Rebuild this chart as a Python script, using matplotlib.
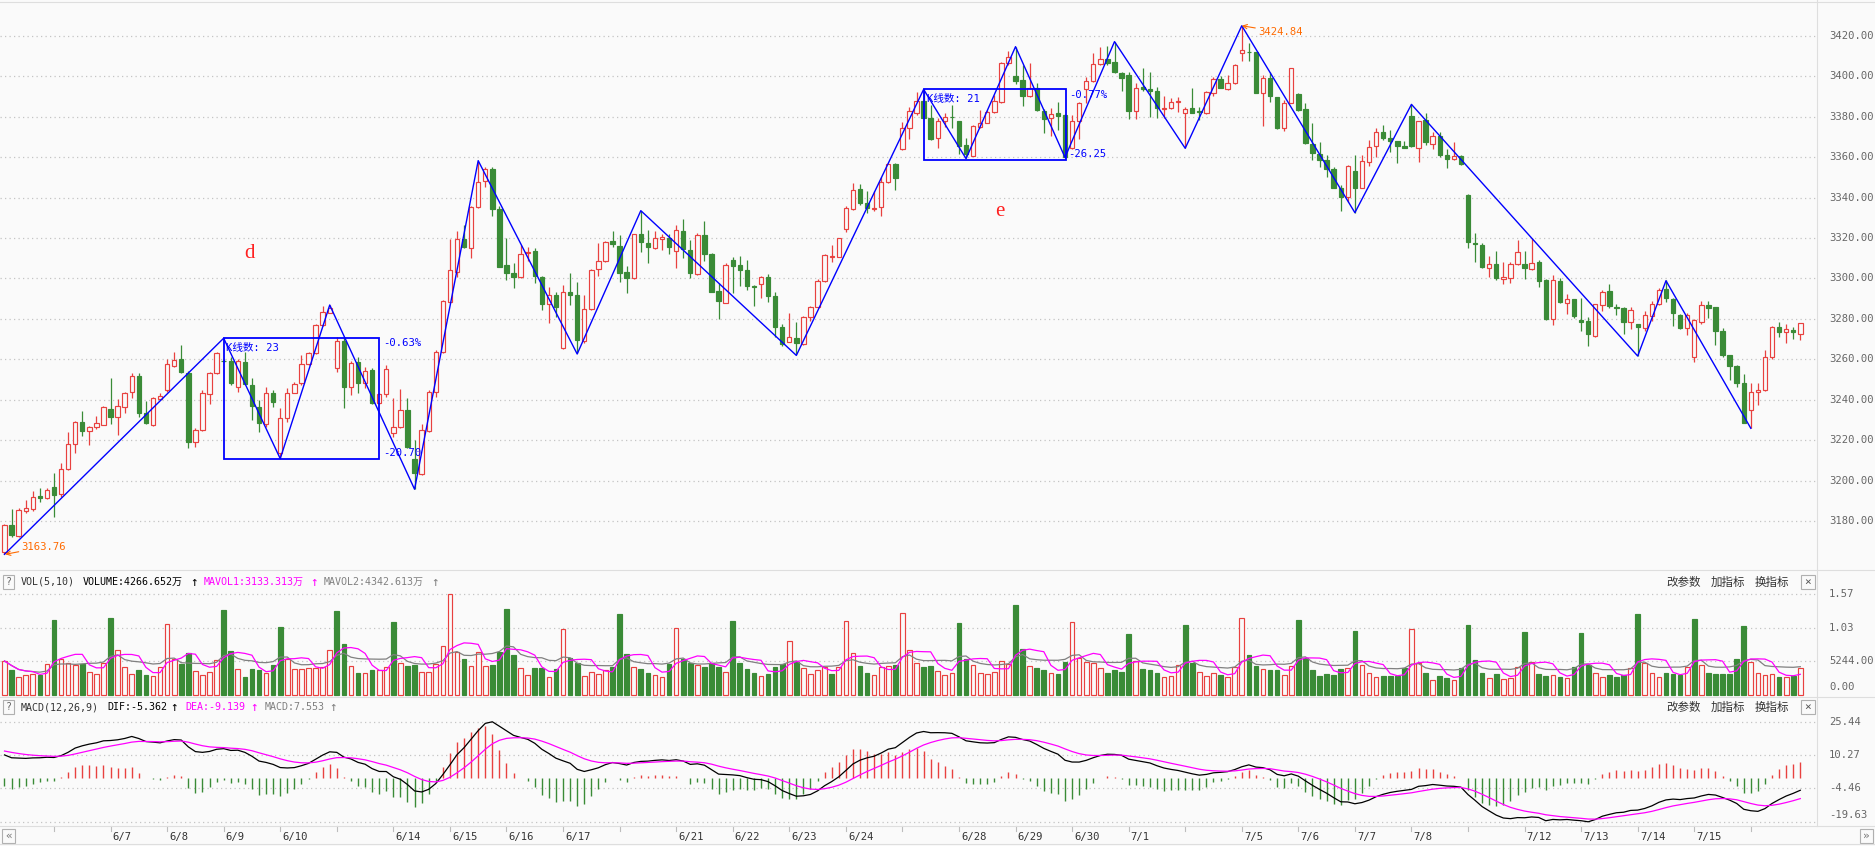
import matplotlib
matplotlib.use('Agg')
import matplotlib.pyplot as plt
import numpy as np
import pandas as pd
from matplotlib.patches import Rectangle
from matplotlib.collections import LineCollection
from matplotlib.lines import Line2D
import matplotlib.transforms as mtransforms

# ---------------- data (30-minute bars, SSE index) ----------------
opens = [3165.0,3178.1,3172.9,3185.4,3186.2,3192.6,3191.5,3197.1,3193.4,3205.8,
3218.1,3229.0,3224.7,3226.5,3227.8,3235.6,3231.5,3236.7,3243.8,3251.7,
3233.4,3227.8,3240.5,3244.8,3257.0,3260.3,3253.5,3219.3,3225.0,3242.8,
3253.2,3259.6,3259.3,3246.6,3258.8,3247.4,3236.6,3228.2,3243.3,3214.0,
3231.0,3243.6,3248.2,3257.6,3263.1,3277.1,3283.1,3256.0,3269.3,3246.3,
3258.9,3248.2,3254.8,3238.7,3242.8,3223.9,3226.5,3235.1,3210.7,3203.5,
3224.7,3243.8,3263.9,3288.5,3303.3,3319.5,3315.2,3335.1,3348.1,3354.0,
3334.5,3306.6,3302.5,3300.5,3312.4,3313.5,3300.9,3287.2,3291.8,3265.5,
3293.1,3291.8,3269.3,3284.7,3304.5,3308.6,3318.5,3316.0,3303.0,3300.0,
3321.8,3317.3,3314.9,3319.3,3319.8,3313.5,3323.4,3314.0,3302.0,3321.4,
3312.1,3293.8,3288.0,3309.1,3306.6,3304.2,3296.4,3297.3,3300.9,3291.3,
3275.9,3268.8,3270.4,3267.5,3281.1,3285.7,3298.9,3310.8,3310.8,3324.4,
3334.3,3344.0,3337.1,3334.1,3335.1,3347.5,3356.5,3363.8,3374.2,3381.9,
3387.6,3379.1,3369.2,3377.8,3380.0,3377.8,3365.9,3360.7,3375.0,3377.0,
3382.4,3387.3,3406.2,3400.0,3398.0,3390.1,3393.9,3382.9,3379.1,3381.6,
3380.7,3364.3,3377.9,3393.6,3397.5,3405.8,3408.2,3406.7,3401.3,3400.5,
3382.7,3394.7,3393.4,3392.6,3383.5,3384.0,3387.3,3381.6,3384.4,3382.7,
3381.6,3391.8,3398.3,3393.4,3396.4,3411.2,3412.0,3411.7,3391.8,3398.9,
3389.5,3374.2,3386.8,3391.1,3383.5,3366.4,3361.5,3358.5,3354.1,3344.9,
3340.1,3353.1,3344.9,3357.5,3365.4,3372.2,3369.2,3367.9,3365.4,3380.2,
3364.6,3378.2,3366.2,3370.3,3361.0,3358.8,3360.5,3341.2,3317.3,3316.5,
3305.3,3307.0,3299.6,3300.1,3307.0,3307.0,3304.5,3308.3,3299.2,3279.8,
3298.7,3288.0,3289.9,3279.5,3279.2,3271.6,3286.9,3293.8,3285.7,3285.2,
3278.7,3277.3,3275.4,3281.6,3287.2,3294.8,3289.9,3282.0,3275.4,3261.0,
3278.3,3286.7,3285.7,3274.2,3262.2,3256.8,3248.2,3235.0,3244.1,3244.9,
3261.4,3275.9,3273.4,3274.5,3272.4]
highs = [3178.8,3186.0,3186.5,3190.6,3195.1,3196.7,3196.7,3203.8,3208.7,3224.4,
3229.8,3234.6,3227.2,3232.1,3237.1,3251.0,3240.5,3244.1,3253.5,3253.2,
3239.5,3241.7,3243.3,3260.1,3263.9,3266.9,3254.2,3226.0,3245.0,3253.8,
3263.9,3260.3,3261.4,3260.3,3263.9,3250.7,3240.0,3246.6,3245.0,3235.9,
3245.8,3249.1,3262.2,3263.9,3277.5,3286.4,3286.9,3271.0,3271.0,3259.4,
3261.4,3256.5,3255.6,3243.6,3257.3,3240.8,3245.3,3240.8,3220.3,3228.2,
3245.0,3264.7,3289.5,3319.5,3323.4,3326.4,3335.8,3358.2,3354.9,3354.9,
3335.8,3319.8,3307.8,3316.5,3315.4,3314.9,3301.4,3295.6,3293.1,3296.8,
3302.5,3298.1,3291.8,3304.5,3317.3,3318.5,3323.4,3321.4,3306.1,3322.0,
3333.5,3323.9,3323.4,3321.8,3321.9,3326.4,3329.2,3319.0,3322.3,3328.4,
3312.4,3297.6,3307.8,3310.8,3311.1,3309.1,3296.8,3301.4,3302.0,3293.1,
3277.5,3283.1,3278.3,3281.4,3286.4,3299.6,3312.1,3316.5,3320.1,3335.8,
3347.3,3346.6,3343.2,3343.2,3350.3,3356.8,3356.8,3377.4,3384.5,3392.3,
3393.1,3385.7,3379.4,3381.9,3385.7,3378.0,3369.2,3375.8,3383.2,3383.2,
3390.6,3406.7,3412.5,3414.5,3405.4,3406.2,3396.4,3383.5,3384.0,3387.3,
3381.0,3380.7,3387.3,3399.3,3411.2,3414.2,3414.8,3417.0,3402.1,3402.1,
3396.7,3403.8,3402.1,3394.7,3390.1,3389.0,3389.8,3384.5,3393.9,3384.5,
3392.8,3399.7,3400.0,3400.5,3405.8,3424.84,3416.1,3412.0,3400.5,3402.1,
3389.8,3388.2,3404.0,3391.8,3386.8,3376.6,3367.6,3361.0,3355.2,3346.2,
3356.0,3361.0,3361.0,3368.4,3374.1,3375.8,3373.3,3368.0,3367.9,3386.0,
3378.0,3381.9,3372.5,3372.5,3363.9,3367.5,3361.0,3341.5,3322.3,3317.3,
3311.1,3313.6,3308.3,3308.3,3319.0,3313.6,3319.8,3309.1,3299.6,3301.7,
3300.1,3292.3,3290.0,3290.2,3281.1,3287.4,3294.3,3297.3,3287.4,3285.7,
3285.7,3277.5,3284.1,3289.0,3295.1,3299.2,3290.2,3282.4,3282.8,3280.0,
3289.0,3289.0,3286.1,3275.4,3262.3,3257.3,3252.8,3248.5,3248.5,3264.7,
3276.5,3278.3,3277.3,3275.9,3278.2]
lows = [3163.76,3172.5,3172.5,3184.1,3185.4,3189.5,3191.1,3182.1,3192.3,3205.4,
3213.7,3222.4,3218.0,3225.5,3227.5,3228.2,3222.7,3233.4,3241.2,3231.8,
3228.2,3227.3,3240.0,3244.0,3256.5,3253.5,3216.2,3216.6,3224.7,3238.0,
3252.9,3258.6,3247.4,3244.1,3247.9,3230.1,3224.0,3226.8,3236.4,3211.7,
3229.3,3243.3,3247.4,3257.3,3262.8,3276.6,3282.8,3254.0,3235.9,3242.5,
3243.6,3245.8,3238.0,3238.0,3241.3,3221.6,3226.0,3216.2,3195.9,3203.1,
3224.4,3241.7,3263.0,3288.0,3300.9,3315.0,3310.3,3334.6,3345.0,3330.8,
3305.8,3299.2,3295.4,3300.0,3308.6,3297.6,3284.4,3277.8,3280.8,3265.0,
3286.9,3263.0,3268.0,3284.4,3301.2,3308.3,3315.4,3298.4,3293.0,3299.7,
3312.9,3307.5,3314.4,3314.0,3311.9,3305.0,3310.0,3300.0,3301.7,3308.8,
3293.1,3280.0,3287.7,3292.6,3296.3,3294.3,3286.4,3290.5,3288.5,3271.2,
3266.6,3268.5,3262.7,3267.1,3279.1,3285.2,3298.4,3308.3,3310.4,3323.1,
3333.8,3336.3,3332.1,3333.3,3330.8,3347.0,3343.7,3363.3,3368.7,3380.7,
3379.1,3368.4,3364.6,3375.0,3374.5,3361.3,3359.3,3360.5,3374.2,3376.6,
3381.9,3386.5,3405.4,3395.9,3385.2,3389.5,3382.9,3372.0,3370.4,3373.3,
3359.6,3363.8,3368.7,3386.5,3397.2,3405.4,3405.4,3401.3,3392.6,3378.6,
3378.6,3392.8,3379.9,3379.4,3379.1,3383.5,3382.4,3364.3,3381.6,3378.3,
3381.1,3390.1,3393.9,3393.1,3396.0,3407.6,3407.6,3391.4,3375.3,3387.3,
3373.7,3372.8,3386.5,3382.9,3366.4,3358.5,3355.2,3350.3,3344.5,3333.5,
3337.9,3332.5,3344.5,3355.5,3359.8,3368.4,3362.6,3357.2,3364.3,3365.1,
3357.7,3365.9,3363.9,3359.8,3354.4,3358.5,3355.9,3315.2,3308.3,3305.0,
3300.9,3299.2,3297.3,3297.6,3306.6,3299.7,3304.2,3295.9,3279.5,3277.0,
3288.0,3282.4,3280.3,3274.2,3266.8,3271.3,3284.1,3285.2,3282.0,3272.6,
3274.9,3261.7,3274.2,3279.2,3286.9,3288.5,3276.5,3274.9,3272.1,3258.9,
3277.5,3280.6,3267.1,3261.4,3249.9,3246.6,3228.5,3226.0,3237.5,3244.6,
3260.1,3271.3,3268.3,3270.1,3269.6]
closes = [3178.3,3173.4,3185.7,3186.5,3191.9,3191.8,3195.4,3193.3,3205.9,3218.3,
3229.0,3224.9,3226.7,3228.5,3236.4,3231.8,3236.9,3243.6,3251.7,3233.8,
3228.5,3241.0,3241.8,3257.6,3259.6,3253.7,3219.4,3225.0,3243.3,3253.5,
3263.4,3259.3,3248.2,3259.3,3247.9,3237.1,3228.5,3243.3,3239.2,3231.0,
3243.3,3247.9,3257.6,3263.1,3277.1,3283.6,3285.3,3269.3,3246.6,3258.5,
3248.6,3254.5,3238.4,3242.8,3255.2,3226.5,3235.1,3217.0,3203.8,3225.2,
3243.8,3263.9,3288.9,3304.2,3319.5,3315.7,3335.1,3347.5,3353.9,3334.5,
3305.8,3302.8,3300.9,3311.9,3313.2,3301.4,3287.4,3291.8,3285.7,3293.1,
3291.8,3269.6,3284.7,3304.2,3308.6,3318.2,3317.0,3302.8,3300.0,3321.8,
3317.8,3315.4,3319.8,3320.3,3315.7,3323.9,3314.4,3302.5,3321.4,3311.9,
3293.5,3289.0,3306.6,3306.3,3304.2,3296.3,3295.9,3300.9,3291.5,3276.2,
3267.5,3270.9,3267.9,3281.1,3285.7,3298.9,3311.6,3311.1,3319.8,3334.6,
3343.7,3337.4,3335.0,3335.0,3347.5,3356.5,3349.8,3374.2,3382.9,3387.6,
3379.4,3368.9,3377.8,3379.6,3379.8,3365.6,3361.3,3375.3,3377.0,3382.0,
3387.6,3406.2,3409.2,3397.7,3390.1,3393.9,3383.2,3378.8,3381.0,3380.2,
3359.8,3377.8,3386.5,3397.5,3405.9,3408.2,3406.6,3401.8,3398.9,3382.9,
3393.9,3393.6,3392.8,3384.0,3384.0,3387.0,3387.6,3383.5,3381.8,3382.0,
3392.3,3398.3,3394.2,3396.4,3405.4,3412.8,3411.7,3391.8,3398.9,3390.1,
3374.2,3386.8,3403.8,3383.2,3366.7,3361.8,3358.5,3354.1,3344.9,3340.1,
3355.7,3344.9,3358.2,3364.7,3372.2,3369.2,3367.9,3365.6,3364.6,3365.4,
3377.8,3367.5,3370.3,3361.0,3359.0,3360.5,3356.4,3317.8,3316.8,3305.8,
3307.0,3300.4,3300.6,3307.0,3313.2,3305.0,3307.8,3298.9,3280.0,3299.2,
3288.5,3289.7,3281.5,3278.7,3272.4,3287.2,3293.3,3286.4,3285.2,3278.7,
3284.4,3276.2,3282.0,3287.4,3294.3,3290.5,3283.1,3275.4,3282.0,3279.5,
3286.9,3285.6,3274.2,3262.2,3256.8,3248.2,3228.5,3244.1,3244.9,3261.0,
3275.9,3273.7,3274.9,3273.4,3277.8]
# volume in 万 shares
volumes = [5307,3902,2758,3070,3226,3122,4787,11707,5671,4943,
4631,4787,3538,3278,5047,12019,7024,4319,3226,3902,
3122,2914,4319,11082,5671,4839,6504,3746,3070,3538,
5463,13268,6920,4058,2758,4058,3954,3382,4735,10614,
5567,4058,4058,4162,4162,4423,7024,13112,7960,4527,
3434,3434,3902,3902,4423,11395,4943,4527,4683,3590,
3590,4839,7648,15765,6764,5671,4527,6764,4527,4683,
6764,13424,6244,4162,3122,4162,4266,2758,4006,10302,
5723,4943,2966,3642,3226,3902,4319,12591,6348,4319,
4058,3486,3122,2862,4839,10406,5619,4943,4683,4400,
5000,4300,3600,11600,5000,4000,3500,3000,3300,4300,
4800,8500,5200,4200,3300,3900,4300,3300,4400,11500,
6500,4600,3400,3100,4300,4500,4700,12800,7000,5000,
4300,4600,3700,3200,3500,11200,5600,4700,3500,3300,
3600,5300,4800,14000,7200,4500,4200,3900,3400,3300,
5100,11400,5800,5200,5000,4200,3500,3900,3600,9500,
5300,4100,3900,3500,2800,3000,4631,10926,4943,3538,
2966,3382,3122,2758,4423,11967,6244,4527,4006,3902,
3902,3070,4527,11707,5723,3902,2966,3278,3122,4058,
4162,9990,4631,3382,2758,2966,2966,2966,4162,10250,
4943,3382,2341,2966,2706,2341,4162,10926,5463,3382,
2602,3226,2497,2654,4423,9834,5151,3226,3018,3122,
2758,2654,4423,9626,4683,3382,2758,3122,2862,3122,
4162,12591,4943,3382,2758,3382,3226,3122,4423,11863,
4631,3382,3278,3278,3278,5619,10770,5151,3382,3122,
3278,2862,2758,3000,4267]

# zigzag pivots (bar index, price)
zz_idx = [0, 31, 39, 46, 58, 67, 81, 90, 112, 130, 136, 143, 150, 157, 167, 175, 191, 199, 231, 235, 247]
zz_price = [3163.76, 3270.5, 3211.0, 3286.9, 3195.9, 3358.2, 3262.7, 3333.5, 3262.0, 3393.4, 3359.2,
            3414.5, 3359.8, 3417.0, 3364.3, 3424.84, 3332.5, 3386.0, 3261.7, 3298.9, 3226.0]

# day labels (first bar of each day: 7 + 8k)
day_labels = ['', '6/7', '6/8', '6/9', '6/10', '', '6/14', '6/15', '6/16', '6/17', '', '6/21', '6/22',
              '6/23', '6/24', '', '6/28', '6/29', '6/30', '7/1', '', '7/5', '7/6', '7/7', '7/8', '',
              '7/12', '7/13', '7/14', '7/15', '']
first_day_bar = 7
bars_per_day = 8

price_ticks = [3180, 3200, 3220, 3240, 3260, 3280, 3300, 3320, 3340, 3360, 3380, 3400, 3420]
vol_ticks = [5244, 10488, 15732]
vol_tick_labels = ['5244.00', '1.03', '1.57']
macd_ticks = [25.44, 10.27, -4.46, -19.63]

# MACD state before first bar
ema12_init, ema26_init, dea_init = 3180.0, 3168.5, 12.7

# ---------------- styling ----------------
W, H = 1875, 846
BG = '#fafafa'
RED = '#e8413f'
GREEN = '#3a8b37'
BLUE = '#0000ff'
ORANGE = '#ff6a00'
GRID = '#c4c4c4'
MONO = ['DejaVu Sans Mono', 'Noto Sans CJK SC']
CJK = ['Noto Sans CJK SC', 'DejaVu Sans']

O = np.array(opens); Hh = np.array(highs); L = np.array(lows); C = np.array(closes)
V = np.array(volumes, dtype=float)
n = len(C)
idx = np.arange(n)

fig = plt.figure(figsize=(W / 100, H / 100), dpi=100, facecolor=BG)


def rect(x0, y0, x1, y1):
    return [x0 / W, 1 - y1 / H, (x1 - x0) / W, (y1 - y0) / H]


XR = 1817
ax = fig.add_axes(rect(0, 8, XR, 568))
axv = fig.add_axes(rect(0, 588, XR, 697))
axm = fig.add_axes(rect(0, 705, XR, 826))
for a in (ax, axv, axm):
    a.set_facecolor(BG)
    a.set_xlim(-0.636, 256.36)
    for s in a.spines.values():
        s.set_visible(False)
    a.set_xticks([])
    a.set_yticks([])

ax.set_ylim(3157.0, 3433.6)
axv.set_ylim(-312, 16703)
axm.set_ylim(-21.5, 33.0)

DOT = (0, (1, 2.6))
for p in price_ticks:
    ax.axhline(p, color=GRID, lw=0.9, ls=DOT, zorder=1)
    ax.text(1 + 12 / XR, p, f'{p:.2f}', transform=ax.get_yaxis_transform(), va='center', ha='left',
            fontsize=7.6, family=MONO, color='#666666')
for v, lab in zip(vol_ticks, vol_tick_labels):
    axv.axhline(v, color=GRID, lw=0.9, ls=DOT, zorder=1)
    axv.text(1 + 12 / XR, v, lab, transform=axv.get_yaxis_transform(), va='center', ha='left',
             fontsize=7.6, family=MONO, color='#666666')
axv.text(1 + 12 / XR, 1300, '0.00', transform=axv.get_yaxis_transform(), va='center', ha='left',
         fontsize=7.6, family=MONO, color='#666666')
for v in macd_ticks:
    axm.axhline(v, color=GRID, lw=0.9, ls=DOT, zorder=1)
    yl = v if v > -19 else -16.6
    axm.text(1 + 12 / XR, yl, f'{v:.2f}', transform=axm.get_yaxis_transform(), va='center', ha='left',
             fontsize=7.6, family=MONO, color='#666666')

# ---------------- candles ----------------
up = C >= O
BW = 0.62
wick_cols = [RED if u else GREEN for u in up]
ax.add_collection(LineCollection([[(i, L[i]), (i, Hh[i])] for i in idx], colors=wick_cols,
                                 linewidths=0.9, zorder=2))
for i in idx:
    b = min(O[i], C[i])
    h = abs(C[i] - O[i])
    if h < 0.3:
        b -= 0.15
        h = 0.3
    if up[i]:
        ax.add_patch(Rectangle((i - BW / 2, b), BW, h, facecolor=BG, edgecolor=RED, lw=0.85, zorder=3))
    else:
        ax.add_patch(Rectangle((i - BW / 2, b), BW, h, facecolor=GREEN, edgecolor=GREEN, lw=0.85, zorder=3))

# zigzag + measurement boxes
ax.plot(zz_idx, zz_price, color=BLUE, lw=1.0, zorder=5)
ax.add_patch(Rectangle((31, 3211.0), 53 - 31, 3270.5 - 3211.0, fill=False, edgecolor=BLUE, lw=1.3, zorder=5))
ax.add_patch(Rectangle((130.1, 3358.3), 150.1 - 130.1, 3393.4 - 3358.3, fill=False, edgecolor=BLUE, lw=1.3, zorder=5))
tkw = dict(fontsize=7.6, family=MONO, color=BLUE, va='center', ha='left', zorder=6)
ax.text(31.3, 3265.7, 'K线数: 23', **tkw)
ax.text(53.5, 3268.0, '-0.63%', **tkw)
ax.text(53.5, 3213.7, '-20.70', **tkw)
ax.text(130.5, 3388.6, 'K线数: 21', **tkw)
ax.text(150.6, 3390.5, '-0.77%', **tkw)
ax.text(150.5, 3361.5, '-26.25', **tkw)

# extremes
ax.annotate('3163.76', xy=(0.1, 3163.76), xytext=(2.4, 3167.4), color=ORANGE, fontsize=7.6, family=MONO,
            va='center', ha='left', zorder=6,
            arrowprops=dict(arrowstyle='->', color=ORANGE, lw=0.8, shrinkA=0, shrinkB=0))
ax.annotate('3424.84', xy=(175, 3424.84), xytext=(177.3, 3421.7), color=ORANGE, fontsize=7.6, family=MONO,
            va='center', ha='left', zorder=6,
            arrowprops=dict(arrowstyle='->', color=ORANGE, lw=0.8, shrinkA=0, shrinkB=0))

ax.text(34.7, 3312.4, 'd', color='#ff2020', fontsize=15, family=['Liberation Serif'], ha='center', va='center')
ax.text(140.8, 3333.3, 'e', color='#ff2020', fontsize=15, family=['Liberation Serif'], ha='center', va='center')

# ---------------- volume ----------------
prevC = np.concatenate([[C[0] - 1], C[:-1]])
vup = C >= prevC
VW = 0.66
for i in idx:
    if vup[i]:
        axv.add_patch(Rectangle((i - VW / 2, 0), VW, V[i], facecolor=BG, edgecolor=RED, lw=0.85, zorder=3))
    else:
        axv.add_patch(Rectangle((i - VW / 2, 0), VW, V[i], facecolor=GREEN, edgecolor=GREEN, lw=0.85, zorder=3))
s = pd.Series(V)
ma5 = s.rolling(5, min_periods=1).mean()
ma10 = s.rolling(10, min_periods=1).mean()
axv.plot(idx, ma10, color='#808080', lw=0.9, zorder=4)
axv.plot(idx, ma5, color='#ff00ff', lw=0.9, zorder=4)

# ---------------- MACD ----------------
e12, e26, dea = ema12_init, ema26_init, dea_init
difs, deas = [], []
for c in C:
    e12 += (c - e12) * 2 / 13
    e26 += (c - e26) * 2 / 27
    dif = e12 - e26
    dea += (dif - dea) * 2 / 10
    difs.append(dif)
    deas.append(dea)
difs = np.array(difs); deas = np.array(deas)
macd = 2 * (difs - deas)
axm.vlines(idx, 0, macd, colors=[RED if m > 0 else GREEN for m in macd], lw=1.0, zorder=3)
axm.plot(idx, difs, color='black', lw=0.9, zorder=4)
axm.plot(idx, deas, color='#ff00ff', lw=0.9, zorder=4)

# x ticks and date labels
bt = mtransforms.blended_transform_factory(axm.transData, axm.transAxes)
for k, lab in enumerate(day_labels):
    xi = first_day_bar + k * bars_per_day
    axm.plot([xi, xi], [0, -5 / 121], transform=bt, color='#bdbdbd', lw=0.8, clip_on=False)
    if lab:
        axm.text(xi + 0.3, -11 / 121, lab, transform=bt, fontsize=7.6, family=MONO, color='#333333',
                 va='center', ha='left', clip_on=False)


# ---------------- frame / headers ----------------
def hline(y, x0=0, x1=W, color='#dedede', lw=0.8):
    fig.add_artist(Line2D([x0 / W, x1 / W], [1 - y / H, 1 - y / H], color=color, lw=lw))


def vline(x, y0, y1, color='#dedede', lw=0.8):
    fig.add_artist(Line2D([x / W, x / W], [1 - y0 / H, 1 - y1 / H], color=color, lw=lw))


def ftext(x, y, s, **kw):
    fig.text(x / W, 1 - y / H, s, **kw)


def fbox(x0, y0, x1, y1, ec='#b0b0b0'):
    fig.add_artist(Rectangle((x0 / W, 1 - y1 / H), (x1 - x0) / W, (y1 - y0) / H, transform=fig.transFigure,
                             facecolor='none', edgecolor=ec, lw=0.8))


hline(2)
hline(570)
hline(697)
hline(826)
hline(844)
vline(XR, 0, 826)

hk = dict(fontsize=7.2, family=MONO, va='center', ha='left')
ak = dict(fontsize=9, family=MONO, va='center', ha='left')
for yy, items in [(582, [(21, 'VOL(5,10)', '#333333'), (83, 'VOLUME:4266.652万', 'black'), (190, '↑', 'black'),
                          (204, 'MAVOL1:3133.313万', '#ff00ff'), (310, '↑', '#ff00ff'),
                          (324, 'MAVOL2:4342.613万', '#808080'), (431, '↑', '#808080')]),
                  (707, [(21, 'MACD(12,26,9)', '#333333'), (107, 'DIF:-5.362', 'black'), (170, '↑', 'black'),
                         (185, 'DEA:-9.139', '#ff00ff'), (250, '↑', '#ff00ff'),
                         (265, 'MACD:7.553', '#808080'), (329, '↑', '#808080')])]:
    fbox(3, yy - 7, 14, yy + 7)
    ftext(8.5, yy, '?', fontsize=7, family=MONO, color='#666666', va='center', ha='center')
    for x, t, col in items:
        if t == '↑':
            ftext(x, yy, t, color=col, **ak)
        else:
            ftext(x, yy, t, color=col, **hk)
    for x, t in [(1666, '改参数'), (1711, '加指标'), (1755, '换指标')]:
        ftext(x, yy, t, fontsize=8.3, family=CJK, color='#333333', va='center', ha='left')
    fbox(1801, yy - 7, 1815, yy + 7)
    ftext(1808, yy, '×', fontsize=8, family=MONO, color='#555555', va='center', ha='center')

# scroll buttons
fbox(2, 829, 15, 843)
ftext(8.5, 836, '«', fontsize=8, family=MONO, color='#777777', va='center', ha='center')
fbox(1860, 829, 1873, 843)
ftext(1866.5, 836, '»', fontsize=8, family=MONO, color='#777777', va='center', ha='center')

fig.savefig('out.png', dpi=100, facecolor=BG)
